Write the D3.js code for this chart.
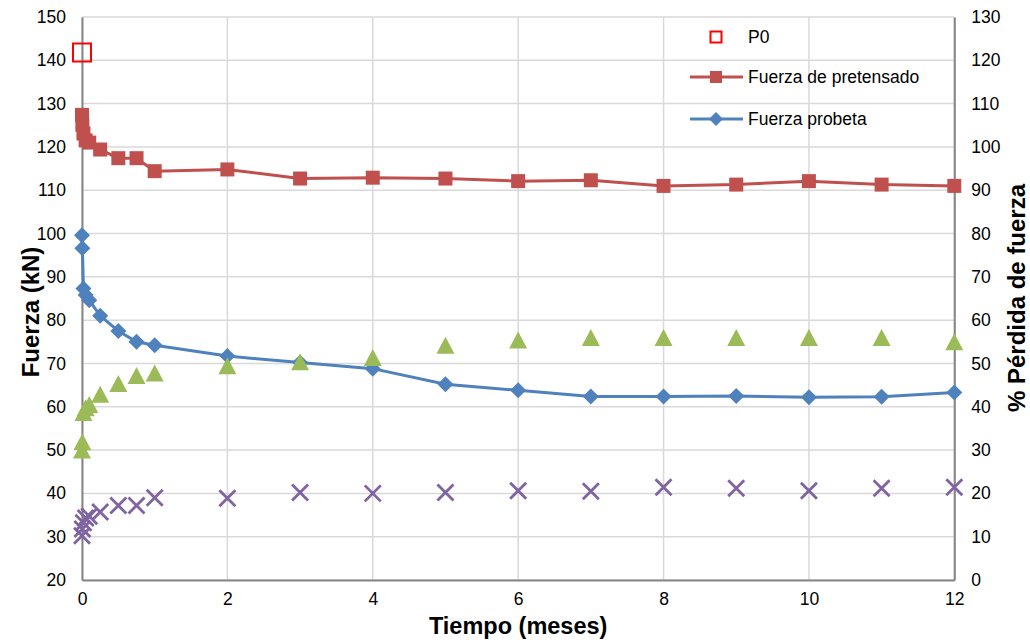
<!DOCTYPE html>
<html>
<head>
<meta charset="utf-8">
<script src="https://cdn.jsdelivr.net/npm/d3@7"></script>
<style>
  html, body { margin: 0; padding: 0; background: #fff; }
  svg { display: block; font-family: "Liberation Sans", Arial, sans-serif; }
</style>
</head>
<body>
<svg id="chart" width="1030" height="643"></svg>
<script>
// ---- Data ----
const meses = [0, 0.005, 0.02, 0.05, 0.1, 0.25, 0.5, 0.75, 1, 2, 3, 4, 5, 6, 7, 8, 9, 10, 11, 12];
const fuerzaPretensado = [127.4, 125.1, 123.1, 121.5, 121.0, 119.4, 117.4, 117.4, 114.4, 114.8, 112.7, 112.9, 112.7, 112.1, 112.3, 111.0, 111.3, 112.1, 111.3, 111.0];
const fuerzaProbeta = [99.6, 96.6, 87.3, 85.8, 84.6, 81.0, 77.5, 75.0, 74.2, 71.7, 70.2, 68.8, 65.2, 63.8, 62.4, 62.4, 62.5, 62.2, 62.3, 63.3];
const perdidaProbeta = [29.8, 31.7, 38.5, 39.6, 40.3, 42.7, 45.2, 47.0, 47.6, 49.3, 50.2, 51.2, 54.0, 55.2, 55.8, 55.8, 55.8, 55.8, 55.8, 54.8];
const perdidaPretensado = [10.2, 11.8, 13.2, 14.3, 14.7, 15.7, 17.2, 17.2, 19.0, 18.9, 20.2, 20.0, 20.2, 20.6, 20.5, 21.4, 21.2, 20.6, 21.2, 21.4];
const p0Mes = [0];
const p0Valor = [141.8];
const xTicks = [0, 2, 4, 6, 8, 10, 12];
const yLeftTicks = [20, 30, 40, 50, 60, 70, 80, 90, 100, 110, 120, 130, 140, 150];
const yRightTicks = [0, 10, 20, 30, 40, 50, 60, 70, 80, 90, 100, 110, 120, 130];
const legendLabels = ["P0", "Fuerza de pretensado", "Fuerza probeta"];

// ---- Layout ----
const svg = d3.select("#chart");
const L = 82, R = 954.3, T = 17, B = 580;
const x = d3.scaleLinear().domain([0, 12]).range([L, R]);
const yL = d3.scaleLinear().domain([20, 150]).range([B, T]);
const yR = d3.scaleLinear().domain([0, 130]).range([B, T]);

const colRed = "#C0504D", colBlue = "#4F81BD", colGreen = "#9BBB59", colPurple = "#8064A2";
const grid = "#d9d9d9", axisCol = "#868686";

// gridlines
svg.append("g").selectAll("line").data(yLeftTicks).join("line")
  .attr("x1", L).attr("x2", R).attr("y1", d => yL(d)).attr("y2", d => yL(d))
  .attr("stroke", grid).attr("stroke-width", 1.5);
svg.append("g").selectAll("line").data(xTicks).join("line")
  .attr("y1", T).attr("y2", B).attr("x1", d => x(d)).attr("x2", d => x(d))
  .attr("stroke", grid).attr("stroke-width", 1.5);

// axes (D3 axes, styled)
const fs = 17.5;
const axL = svg.append("g").attr("transform", `translate(${L},0)`)
  .call(d3.axisLeft(yL).tickValues(yLeftTicks).tickSize(0).tickPadding(16));
const axR = svg.append("g").attr("transform", `translate(${R},0)`)
  .call(d3.axisRight(yR).tickValues(yRightTicks).tickSize(0).tickPadding(17));
const axB = svg.append("g").attr("transform", `translate(0,${B})`)
  .call(d3.axisBottom(x).tickValues(xTicks).tickSize(0).tickPadding(13));
[axL, axR, axB].forEach(g => {
  g.select(".domain").attr("stroke", axisCol).attr("stroke-width", 2);
  g.selectAll("text").attr("font-size", fs).attr("fill", "#000")
    .attr("font-family", "Liberation Sans, Arial, sans-serif");
});

// axis titles
svg.append("text").attr("x", (L + R) / 2).attr("y", 634).attr("text-anchor", "middle")
  .attr("font-size", 23.5).attr("font-weight", "bold").text("Tiempo (meses)");
svg.append("text").attr("transform", `translate(39,312) rotate(-90)`)
  .attr("text-anchor", "middle").attr("font-size", 24).attr("font-weight", "bold").text("Fuerza (kN)");
svg.append("text").attr("transform", `translate(1025,298) rotate(-90)`)
  .attr("text-anchor", "middle").attr("font-size", 24).attr("font-weight", "bold").text("% Pérdida de fuerza");

// series
const idx = d3.range(meses.length);
const lineL = vals => d3.line().x(i => x(meses[i])).y(i => yL(vals[i]));

const sq = d3.symbol().type(d3.symbolSquare).size(196);
const diaPath = r => `M0,${-r}L${r},0L0,${r}L${-r},0Z`;
const triPath = (w, h) => `M0,${-h * 0.55}L${w / 2},${h * 0.45}L${-w / 2},${h * 0.45}Z`;

// Fuerza de pretensado
svg.append("path").datum(idx).attr("d", lineL(fuerzaPretensado))
  .attr("fill", "none").attr("stroke", colRed).attr("stroke-width", 3);
svg.append("g").selectAll("path").data(idx).join("path")
  .attr("transform", i => `translate(${x(meses[i])},${yL(fuerzaPretensado[i])})`)
  .attr("d", sq).attr("fill", colRed);

// Fuerza probeta
svg.append("path").datum(idx).attr("d", lineL(fuerzaProbeta))
  .attr("fill", "none").attr("stroke", colBlue).attr("stroke-width", 3);
svg.append("g").selectAll("path").data(idx).join("path")
  .attr("transform", i => `translate(${x(meses[i])},${yL(fuerzaProbeta[i])})`)
  .attr("d", diaPath(8)).attr("fill", colBlue);

// P0
svg.append("g").selectAll("rect").data(d3.range(p0Mes.length)).join("rect")
  .attr("x", i => x(p0Mes[i]) - 9).attr("y", i => yL(p0Valor[i]) - 9)
  .attr("width", 18).attr("height", 18)
  .attr("fill", "none").attr("stroke", "#FF0000").attr("stroke-width", 2);

// % pérdida probeta (triangles, right axis)
svg.append("g").selectAll("path").data(idx).join("path")
  .attr("transform", i => `translate(${x(meses[i])},${yR(perdidaProbeta[i])})`)
  .attr("d", triPath(18, 17)).attr("fill", colGreen);

// % pérdida pretensado (x marks, right axis)
const xm = 8;
const gx = svg.append("g").selectAll("g").data(idx).join("g")
  .attr("transform", i => `translate(${x(meses[i])},${yR(perdidaPretensado[i])})`);
gx.append("path").attr("d", `M${-xm},${-xm}L${xm},${xm}M${-xm},${xm}L${xm},${-xm}`)
  .attr("stroke", colPurple).attr("stroke-width", 2.8).attr("fill", "none");

// legend
const lg = svg.append("g");
const ly = [37, 77, 119];
const lxC = 716, lxT = 748;
lg.append("rect").attr("x", lxC - 5.5).attr("y", ly[0] - 5.5).attr("width", 11).attr("height", 11)
  .attr("fill", "none").attr("stroke", "#FF0000").attr("stroke-width", 2);
lg.append("line").attr("x1", 690).attr("x2", 743).attr("y1", ly[1]).attr("y2", ly[1])
  .attr("stroke", colRed).attr("stroke-width", 3);
lg.append("path").attr("transform", `translate(${lxC},${ly[1]})`)
  .attr("d", d3.symbol().type(d3.symbolSquare).size(144)).attr("fill", colRed);
lg.append("line").attr("x1", 690).attr("x2", 743).attr("y1", ly[2]).attr("y2", ly[2])
  .attr("stroke", colBlue).attr("stroke-width", 3);
lg.append("path").attr("transform", `translate(${lxC},${ly[2]})`)
  .attr("d", diaPath(7)).attr("fill", colBlue);
lg.selectAll("text").data(legendLabels).join("text")
  .attr("x", lxT).attr("y", (d, i) => ly[i]).attr("dy", "0.35em")
  .attr("font-size", fs).attr("fill", "#000").text(d => d);
</script>
</body>
</html>
